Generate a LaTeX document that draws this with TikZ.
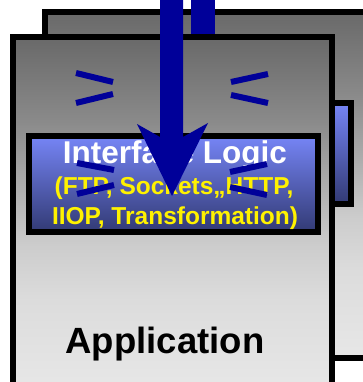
\documentclass[tikz,border=0pt]{standalone}
\usepackage{fontspec}
\setmainfont{Liberation Sans}
\definecolor{arrowblue}{RGB}{0,0,153}
\definecolor{ga}{RGB}{231,231,231}
\definecolor{gb}{RGB}{220,220,220}
\definecolor{gc}{RGB}{204,204,204}
\definecolor{gd}{RGB}{138,138,138}
\definecolor{ge}{RGB}{105,105,105}
\definecolor{bluetop}{RGB}{118,133,246}
\definecolor{bluebot}{RGB}{50,58,116}
\pgfdeclareverticalshading{appgray}{100bp}{color(0bp)=(ga); color(25bp)=(ga); color(37.5bp)=(gb); color(45.5bp)=(gc); color(63bp)=(gd); color(75bp)=(ge); color(100bp)=(ge)}
\tikzset{
  appbox/.style={rectangle, draw=black, line width=6pt, shade, shading=appgray, inner sep=0pt, outer sep=0pt},
  ifbox/.style={rectangle, draw=black, line width=6pt, top color=bluetop, bottom color=bluebot, inner sep=0pt, outer sep=0pt},
  spark/.style={draw=arrowblue, line width=6pt},
  arrowbody/.style={fill=arrowblue, draw=none},
  bigtitle/.style={inner sep=0pt, anchor=base, font=\bfseries\fontsize{31.5}{36}\selectfont, text=white},
  subtitle/.style={inner sep=0pt, anchor=base, font=\bfseries\fontsize{24.5}{29}\selectfont, text=yellow},
  apptitle/.style={inner sep=0pt, anchor=base, font=\bfseries\fontsize{36.5}{42}\selectfont, text=black}
}
\begin{document}
\begin{tikzpicture}[x=1pt,y=-1pt]
\useasboundingbox (0,0) rectangle (363,382);
\clip (0,0) rectangle (363,382);
% back application box
\node[appbox, minimum width=325pt, minimum height=346pt] (backbox) at (207.5,185) {};
% back arrow stem
\coordinate (backtop) at (203,-5);
\coordinate (backend) at (203,60);
\draw[arrowblue, line width=24pt] (backtop) -- (backend);
% back interface box
\node[ifbox, minimum width=291pt, minimum height=101pt] (backiface) at (205.5,153.5) {};
% front application box
\node[appbox, minimum width=319pt, minimum height=351pt] (frontbox) at (172.5,212.5) {};
% front interface box
\node[ifbox, minimum width=289pt, minimum height=96pt] (iface) at (173.5,184) {};
% texts
\node[bigtitle] (t1) at (175,164) {Interface Logic};
\node[subtitle] (t2) at (174,194) {(FTP, Sockets,,HTTP,};
\node[subtitle] (t3) at (175,224) {IIOP, Transformation)};
\node[apptitle] (app) at (165,353) {Application};
% spark marks on application box
\coordinate (s1a) at (76,73);  \coordinate (s1b) at (113,82);
\coordinate (s2a) at (76,103); \coordinate (s2b) at (113,94);
\coordinate (s3a) at (231,82); \coordinate (s3b) at (268,74);
\coordinate (s4a) at (231,95); \coordinate (s4b) at (268,103);
\draw[spark] (s1a) -- (s1b);
\draw[spark] (s2a) -- (s2b);
\draw[spark] (s3a) -- (s3b);
\draw[spark] (s4a) -- (s4b);
% spark marks on interface box
\coordinate (m1a) at (77,163);  \coordinate (m1b) at (114,170);
\coordinate (m2a) at (77,194);  \coordinate (m2b) at (114,185);
\coordinate (m3a) at (230,172); \coordinate (m3b) at (267,164);
\coordinate (m4a) at (230,187); \coordinate (m4b) at (267,195);
\draw[spark] (m1a) -- (m1b);
\draw[spark] (m2a) -- (m2b);
\draw[spark] (m3a) -- (m3b);
\draw[spark] (m4a) -- (m4b);
% front arrow
\coordinate (atip) at (172,196);
\path[arrowbody] (160,-5) -- (160,137) -- (137,124) -- (atip) -- (208,123) -- (183,137) -- (183,-5) -- cycle;
\end{tikzpicture}
\end{document}
